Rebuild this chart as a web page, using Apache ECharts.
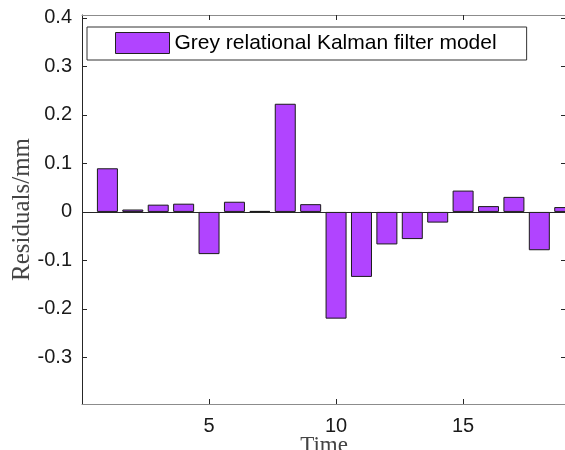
<!DOCTYPE html>
<html>
<head>
<meta charset="utf-8">
<script src="https://cdn.jsdelivr.net/npm/echarts@6/dist/echarts.min.js"></script>
<style>
html,body{margin:0;padding:0;background:#fff;}
#c{width:565px;height:450px;}
</style>
</head>
<body>
<div id="c"></div>
<script>
var times = [1,2,3,4,5,6,7,8,9,10,11,12,13,14,15,16,17,18,19];
var residuals = [0.090,0.005,0.015,0.017,-0.087,0.021,0.002,0.223,0.016,-0.220,-0.134,-0.067,-0.056,-0.022,0.044,0.012,0.031,-0.079,0.010];
var seriesName = 'Grey relational Kalman filter model';
var xTicks = [5,10,15];
var yTicks = [-0.3,-0.2,-0.1,0,0.1,0.2,0.3,0.4];

var chart = echarts.init(document.getElementById('c'), null, {renderer:'canvas'});
var data = times.map(function(t,i){return [t, residuals[i]];});
var tickCol = '#262626';
var option = {
  animation:false,
  backgroundColor:'#fff',
  grid:{left:82, top:15, right:-1, bottom:46, containLabel:false, outerBoundsMode:'none'},
  legend:{
    data:[seriesName],
    left:87, top:27,
    padding:[5,30,6,28],
    itemWidth:54, itemHeight:21,
    icon:'rect',
    backgroundColor:'#fff',
    borderColor:'#333', borderWidth:1, borderRadius:0,
    itemStyle:{borderColor:'#222', borderWidth:1},
    textStyle:{fontFamily:'Liberation Sans', fontSize:21, color:'#000'}
  },
  xAxis:[{
    type:'value', position:'bottom', min:0, max:19.05,
    name:'Time', nameLocation:'middle', nameGap:30, nameMoveOverlap:false,
    nameTextStyle:{fontFamily:'Liberation Serif', fontSize:23, color:'#444'},
    axisLine:{show:true, onZero:false, lineStyle:{color:'#8c8c8c', width:1}},
    axisTick:{show:true, inside:true, length:5, customValues:xTicks, lineStyle:{color:tickCol}},
    axisLabel:{show:true, customValues:xTicks, margin:12, fontFamily:'Liberation Sans', fontSize:20, color:'#1a1a1a'},
    splitLine:{show:false}
  },{
    type:'value', position:'top', min:0, max:19.05,
    axisLine:{show:true, onZero:false, lineStyle:{color:'#8c8c8c', width:1}},
    axisTick:{show:true, inside:true, length:5, customValues:xTicks, lineStyle:{color:tickCol}},
    axisLabel:{show:false},
    splitLine:{show:false}
  }],
  yAxis:[{
    type:'value', position:'left', min:-0.396, max:0.406,
    name:'Residuals/mm', nameLocation:'middle', nameGap:47, nameMoveOverlap:false,
    nameTextStyle:{fontFamily:'Liberation Serif', fontSize:25, color:'#444'},
    axisLine:{show:true, onZero:false, lineStyle:{color:'#262626', width:1}},
    axisTick:{show:true, inside:true, length:5, customValues:yTicks, lineStyle:{color:tickCol}},
    axisLabel:{show:true, customValues:yTicks, margin:10, fontFamily:'Liberation Sans', fontSize:20, color:'#1a1a1a'},
    splitLine:{show:false}
  },{
    type:'value', position:'right', min:-0.396, max:0.406,
    axisLine:{show:true, onZero:false, lineStyle:{color:'#262626', width:1}},
    axisTick:{show:true, inside:true, length:5, customValues:yTicks, lineStyle:{color:tickCol}},
    axisLabel:{show:false},
    splitLine:{show:false}
  }],
  series:[{
    name:seriesName,
    type:'bar',
    xAxisIndex:0, yAxisIndex:0,
    data:data,
    barWidth:21,
    clip:true,
    itemStyle:{color:'#B144FF', borderColor:'#1a1a1a', borderWidth:1},
    markLine:{
      silent:true, symbol:['none','none'],
      label:{show:false},
      lineStyle:{color:'#262626', width:1, type:'solid'},
      data:[{yAxis:0}]
    }
  }]
};
chart.setOption(option);
</script>
</body>
</html>
